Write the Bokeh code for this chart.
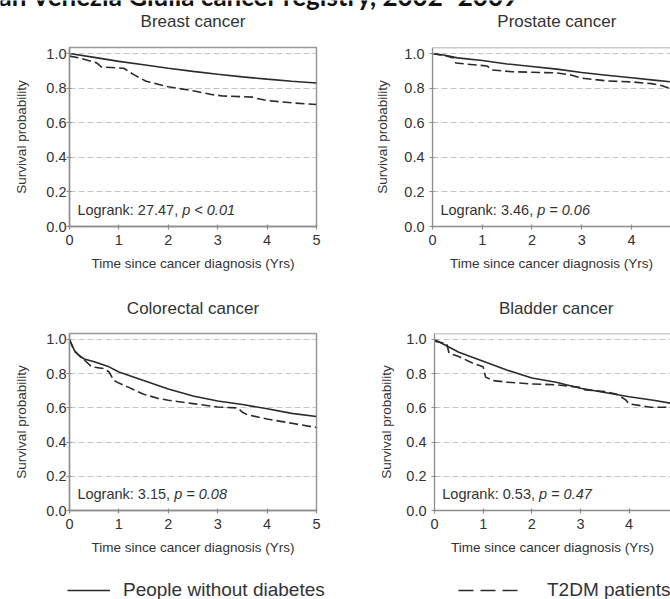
from bokeh.plotting import figure
from bokeh.layouts import column, row
from bokeh.models import (FixedTicker, NumeralTickFormatter, Label, Legend, LegendItem,
                          Range1d, Span)
from bokeh.embed import file_html
from bokeh.resources import INLINE

# ---------------- data ----------------
header_text = "an Venezia Giulia cancer registry, 2002\u20132009"

panel_titles = ["Breast cancer", "Prostate cancer", "Colorectal cancer", "Bladder cancer"]
logrank_plain = ["Logrank: 27.47, ", "Logrank: 3.46, ", "Logrank: 3.15, ", "Logrank: 0.53, "]
logrank_ital = ["p < 0.01", "p = 0.06", "p = 0.08", "p = 0.47"]
x_label = "Time since cancer diagnosis (Yrs)"
y_label = "Survival probability"

legend_labels = ["People without diabetes", "T2DM patients"]

x_ticks = [0, 1, 2, 3, 4, 5]
y_ticks = [0.0, 0.2, 0.4, 0.6, 0.8, 1.0]
Y_END = 1.035
X_FULL = 5.0

# Breast
breast_nodm_t = [0, 0.5, 1, 1.5, 2, 2.5, 3, 3.5, 4, 4.5, 5]
breast_nodm_s = [1.0, 0.978, 0.955, 0.935, 0.915, 0.897, 0.88, 0.865, 0.852, 0.84, 0.83]
breast_dm_t = [0, 0.2, 0.55, 0.65, 1.1, 1.3, 1.55, 2.0, 2.5, 2.9, 3.1, 3.7, 3.8, 4.0, 4.5, 5.0]
breast_dm_s = [0.985, 0.975, 0.946, 0.922, 0.915, 0.878, 0.84, 0.808, 0.785, 0.762, 0.755,
               0.748, 0.74, 0.728, 0.715, 0.705]

# Prostate
prostate_nodm_t = [0, 0.25, 0.5, 1, 1.5, 2, 2.5, 3, 3.5, 4, 4.5, 5]
prostate_nodm_s = [1.0, 0.99, 0.975, 0.96, 0.94, 0.925, 0.91, 0.89, 0.875, 0.86, 0.845, 0.83]
prostate_dm_t = [0, 0.3, 0.42, 0.47, 1.1, 1.2, 1.6, 2.5, 2.8, 3.0, 3.5, 4.0, 4.4, 4.6, 4.78, 5.0]
prostate_dm_s = [1.0, 0.985, 0.975, 0.945, 0.928, 0.905, 0.895, 0.888, 0.875, 0.858, 0.842,
                 0.836, 0.826, 0.815, 0.797, 0.785]

# Colorectal
colorectal_nodm_t = [0, 0.1, 0.2, 0.3, 0.5, 0.8, 1, 1.5, 2, 2.5, 3, 3.5, 4, 4.5, 5]
colorectal_nodm_s = [1.0, 0.935, 0.905, 0.886, 0.87, 0.84, 0.81, 0.76, 0.71, 0.67, 0.64,
                     0.62, 0.595, 0.568, 0.55]
colorectal_dm_t = [0, 0.1, 0.3, 0.45, 0.7, 0.8, 0.9, 1.0, 1.2, 1.5, 1.8, 2.0, 2.5, 3.0, 3.4,
                   3.5, 3.6, 4.0, 4.5, 5.0]
colorectal_dm_s = [1.0, 0.93, 0.88, 0.84, 0.83, 0.81, 0.76, 0.745, 0.72, 0.68, 0.655, 0.645,
                   0.625, 0.605, 0.6, 0.575, 0.56, 0.535, 0.51, 0.485]

# Bladder
bladder_nodm_t = [0, 0.5, 1, 1.5, 2, 2.5, 3, 3.5, 4, 4.5, 5]
bladder_nodm_s = [1.0, 0.925, 0.873, 0.82, 0.775, 0.75, 0.715, 0.69, 0.665, 0.645, 0.62]
bladder_dm_t = [0, 0.25, 0.3, 0.5, 0.8, 1.0, 1.05, 1.2, 1.5, 2.0, 2.5, 3.0, 3.1, 3.5, 3.75,
                3.93, 4.0, 4.44, 5.0]
bladder_dm_s = [0.99, 0.975, 0.92, 0.9, 0.86, 0.84, 0.78, 0.76, 0.75, 0.74, 0.735, 0.72,
                0.705, 0.695, 0.68, 0.647, 0.624, 0.604, 0.604]

# ---------------- layout constants ----------------
W_TOTAL = 670
W_LEFT, W_RIGHT = 340, 330
H_HDR, H_ROW1, H_STRIP, H_ROW2, H_LEG = 31, 259, 28, 252, 29
LEFT_MB = [69, 92, 69, 94]
RIGHT_MB = [24, 0, 24, 0]
X_END = [5.0, 4.785, 5.0, 4.85]

FONT = "Liberation Sans"
TXT = "#333333"
AX = "#8c8c8c"
CURVE = "#2b2b2b"

# Arial / Liberation Sans advance widths (1/1000 em) for the label prefix
_W = {"L": 556, "o": 556, "g": 556, "r": 333, "a": 556, "n": 556, "k": 500, ":": 278,
      " ": 278, ".": 278, ",": 278}
for d in "0123456789":
    _W[d] = 556


def text_width(s, size):
    return sum(_W.get(c, 556) for c in s) * size / 1000.0


def title_centre(i):
    """Screen x of the centre of the full 0-5 yr axis of panel i."""
    x0 = 0 if i % 2 == 0 else W_LEFT
    w = W_LEFT if i % 2 == 0 else W_RIGHT
    f_left = x0 + LEFT_MB[i]
    f_w = w - LEFT_MB[i] - RIGHT_MB[i]
    return f_left + f_w * (X_FULL / 2) / X_END[i]


def panel(i, t_a, s_a, t_b, s_b, height, mb_top, mb_bottom, ylab_standoff, ytick_standoff):
    right_side = (i % 2 == 1)
    p = figure(width=W_RIGHT if right_side else W_LEFT, height=height,
               x_range=Range1d(0, X_END[i]), y_range=Range1d(0, Y_END),
               output_backend="svg", toolbar_location=None,
               min_border_left=LEFT_MB[i], min_border_right=RIGHT_MB[i],
               min_border_top=mb_top, min_border_bottom=mb_bottom)
    p.background_fill_color = "white"
    p.border_fill_color = "white"

    if right_side:
        # frame continues past the right edge of the picture: only a top border
        p.outline_line_color = None
        p.add_layout(Span(location=Y_END, dimension="width", line_color="#999999",
                          line_width=1.5))
    else:
        p.outline_line_color = "#999999"
        p.outline_line_width = 1.5

    p.xgrid.visible = False
    p.ygrid.ticker = FixedTicker(ticks=y_ticks[1:])
    p.ygrid.grid_line_color = "#c4c4c4"
    p.ygrid.grid_line_dash = "6 3"
    p.ygrid.grid_line_width = 1

    p.xaxis.ticker = FixedTicker(ticks=x_ticks)
    p.yaxis.ticker = FixedTicker(ticks=y_ticks)
    p.yaxis.formatter = NumeralTickFormatter(format="0.0")
    for ax in (p.xaxis, p.yaxis):
        ax.axis_line_color = AX
        ax.axis_line_width = 1.3
        ax.major_tick_line_color = AX
        ax.major_tick_line_width = 1.2
        ax.major_tick_in = 2
        ax.major_tick_out = 3
        ax.minor_tick_line_color = None
        ax.major_label_text_font = FONT
        ax.major_label_text_font_size = "14.5px"
        ax.major_label_text_color = TXT
        ax.axis_label_text_font = FONT
        ax.axis_label_text_font_size = "13.5px"
        ax.axis_label_text_font_style = "normal"
        ax.axis_label_text_color = TXT
    p.xaxis.axis_label = x_label
    p.xaxis.axis_label_standoff = 8
    p.yaxis.axis_label = y_label
    p.yaxis.axis_label_standoff = ylab_standoff
    p.yaxis.major_label_standoff = ytick_standoff

    p.line(t_a, s_a, line_color=CURVE, line_width=1.6)
    p.line(t_b, s_b, line_color=CURVE, line_width=1.6, line_dash="9 4")

    fs = 14.5
    p.add_layout(Label(x=0.16, y=0.095, text=logrank_plain[i], text_font=FONT,
                       text_font_size=f"{fs}px", text_color=TXT, text_baseline="middle"))
    p.add_layout(Label(x=0.16, y=0.095, x_offset=text_width(logrank_plain[i], fs),
                       text=logrank_ital[i], text_font=FONT, text_font_style="italic",
                       text_font_size=f"{fs}px", text_color=TXT, text_baseline="middle"))
    return p


def strip(height):
    s = figure(width=W_TOTAL, height=height, x_range=Range1d(0, 1), y_range=Range1d(0, 1),
               output_backend="svg", toolbar_location=None, min_border=0,
               x_axis_location=None, y_axis_location=None)
    s.grid.visible = False
    s.outline_line_color = None
    return s


def title_label(i, y_mid):
    return Label(x=title_centre(i), y=y_mid, x_units="screen", y_units="screen",
                 text=panel_titles[i], text_font=FONT, text_font_size="17px",
                 text_color=TXT, text_align="center", text_baseline="middle")


p1 = panel(0, breast_nodm_t, breast_nodm_s, breast_dm_t, breast_dm_s, H_ROW1, 16, 64, 14, 0)
p2 = panel(1, prostate_nodm_t, prostate_nodm_s, prostate_dm_t, prostate_dm_s, H_ROW1, 16, 64, 11, 5)
p3 = panel(2, colorectal_nodm_t, colorectal_nodm_s, colorectal_dm_t, colorectal_dm_s, H_ROW2, 15, 60, 14, 0)
p4 = panel(3, bladder_nodm_t, bladder_nodm_s, bladder_dm_t, bladder_dm_s, H_ROW2, 15, 60, 9, 5)

# header strip: report title (cut off at the top of the picture) + top panel titles
hdr = strip(H_HDR)
hdr.add_layout(Label(x=-2, y=H_HDR + 5, x_units="screen", y_units="screen", text=header_text,
                     text_font="Lato", text_font_style="bold", text_font_size="26px",
                     text_color="#111111", text_baseline="middle"))
hdr.add_layout(title_label(0, 10))
hdr.add_layout(title_label(1, 10))

# strip with the lower panel titles
mid = strip(H_STRIP)
mid.add_layout(title_label(2, 10))
mid.add_layout(title_label(3, 10))

# legend strip
lf = strip(H_LEG)
nan = float("nan")
r1 = lf.line(x=[nan], y=[nan], line_color=CURVE, line_width=1.4)
r2 = lf.line(x=[nan], y=[nan], line_color=CURVE, line_width=1.4, line_dash="15 7")
common = dict(padding=0, margin=0, border_line_color=None, background_fill_alpha=0,
              label_text_font=FONT, label_text_font_size="19px", label_text_color=TXT,
              label_height=20, glyph_height=20, spacing=0)
leg1 = Legend(items=[LegendItem(label=legend_labels[0], renderers=[r1])],
              location=(67, -2), glyph_width=43, label_standoff=13, **common)
leg2 = Legend(items=[LegendItem(label=legend_labels[1], renderers=[r2])],
              location=(458, -2), glyph_width=62, label_standoff=27, **common)
lf.add_layout(leg1, "center")
lf.add_layout(leg2, "center")

layout = column(hdr, row(p1, p2), mid, row(p3, p4), lf)
open("out.html", "w").write(file_html(layout, INLINE))
